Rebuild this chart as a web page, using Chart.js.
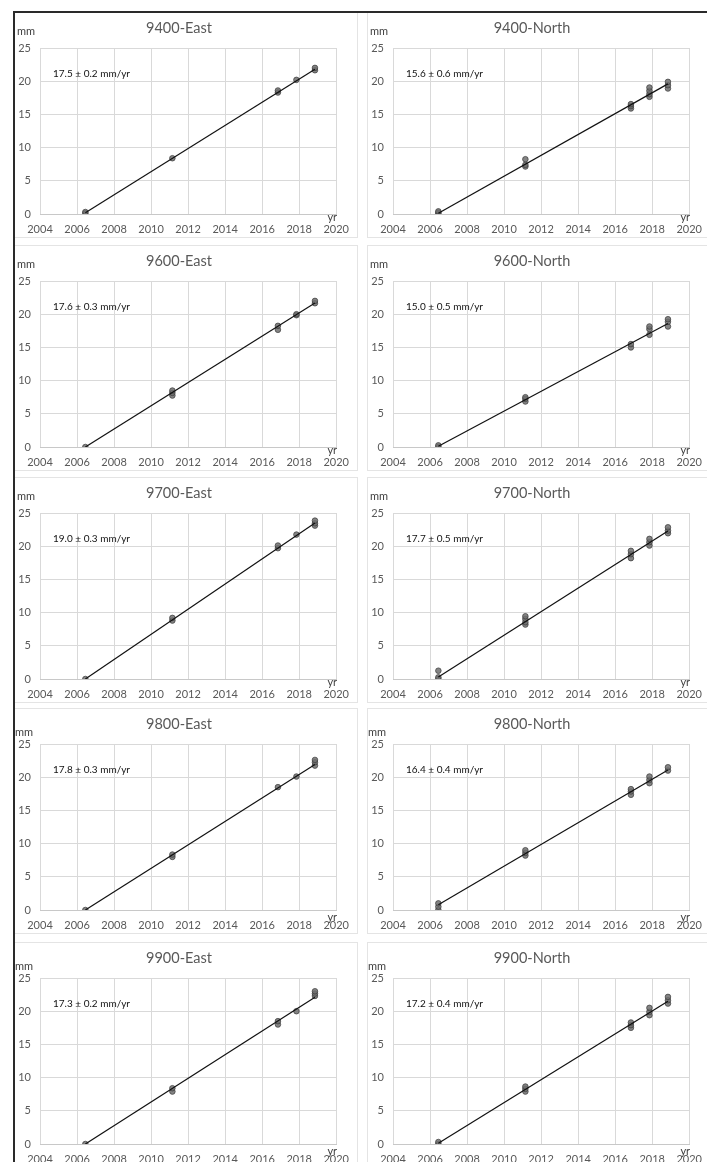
<!DOCTYPE html>
<html>
<head>
<meta charset="utf-8">
<script src="https://cdn.jsdelivr.net/npm/chart.js@4.4.0/dist/chart.umd.min.js"></script>
<style>
  html, body { margin: 0; padding: 0; background: #fff; }
  body { width: 707px; height: 1162px; overflow: hidden; position: relative; }
  .box { position: absolute; width: 344px; height: 226px; box-sizing: border-box; border: 1px solid #e4e4e4; background: #fff; }
  .box canvas { position: absolute; left: -1px; top: -1px; }
  #frameL { position: absolute; z-index: 10; left: 13px; top: 11px; width: 2px; height: 1151px; background: #2a2a2a; }
  #frameT { position: absolute; z-index: 10; left: 13px; top: 11px; width: 694px; height: 2px; background: #2a2a2a; }
</style>
</head>
<body>
<div id="frameL"></div><div id="frameT"></div>
<script>
// ---- data ----
const epochs = [2006.45, 2011.15, 2016.85, 2017.85, 2018.85];
const xTicks = [2004, 2006, 2008, 2010, 2012, 2014, 2016, 2018, 2020];
const yTicks = [0, 5, 10, 15, 20, 25];
const titles = ['9400-East','9400-North','9600-East','9600-North','9700-East','9700-North','9800-East','9800-North','9900-East','9900-North'];
const rates = ['17.5 \u00b1 0.2 mm/yr','15.6 \u00b1 0.6 mm/yr','17.6 \u00b1 0.3 mm/yr','15.0 \u00b1 0.5 mm/yr','19.0 \u00b1 0.3 mm/yr','17.7 \u00b1 0.5 mm/yr','17.8 \u00b1 0.3 mm/yr','16.4 \u00b1 0.4 mm/yr','17.3 \u00b1 0.2 mm/yr','17.2 \u00b1 0.4 mm/yr'];

const pts9400E = [[0.1,0.3],[8.4],[18.3,18.6],[20.2],[21.65,22.0]];
const pts9400N = [[0.0,0.2,0.4],[7.15,7.4,8.25],[15.9,16.25,16.55],[17.65,18.05,18.55,19.05],[18.9,19.4,19.9]];
const pts9600E = [[0.0],[7.75,8.15,8.5],[17.65,18.25],[19.85,20.0],[21.65,22.0]];
const pts9600N = [[0.0,0.25],[6.85,7.25,7.5],[15.0,15.5],[16.9,17.75,18.15],[18.15,18.85,19.25]];
const pts9700E = [[0.0],[8.8,9.2],[19.7,20.1],[21.75],[23.1,23.45,23.85]];
const pts9700N = [[0.0,0.25,1.25],[8.2,8.55,9.05,9.45],[18.2,18.8,19.3],[20.1,20.6,21.1],[21.95,22.35,22.85]];
const pts9800E = [[0.0],[8.0,8.35],[18.5],[20.1],[21.75,22.25,22.6]];
const pts9800N = [[0.0,0.5,1.0],[8.2,8.6,9.0],[17.35,17.85,18.2],[19.1,19.6,20.1],[21.0,21.5]];
const pts9900E = [[0.0],[7.9,8.4],[18.0,18.5],[20.0],[22.3,22.65,23.0]];
const pts9900N = [[0.0,0.3],[7.9,8.3,8.65],[17.5,17.9,18.3],[19.4,19.9,20.5],[21.15,21.65,22.15]];
const panelPoints = [pts9400E, pts9400N, pts9600E, pts9600N, pts9700E, pts9700N, pts9800E, pts9800N, pts9900E, pts9900N];

const fitStart = [0.2, 0.1, 0.0, 0.1, 0.0, 0.3, 0.0, 0.8, 0.0, 0.1];
const fitEnd   = [21.8, 19.6, 21.7, 18.6, 23.5, 22.3, 21.9, 21.1, 22.1, 21.5];

// ---- layout ----
const rowTops = [12, 245, 477, 708, 942];
const colLefts = [14, 367];
const FONT = 'Lato, "Open Sans", sans-serif';

const extraText = {
  id: 'extraText',
  afterDraw(chart, args, opts) {
    const ctx = chart.ctx, ca = chart.chartArea;
    ctx.save();
    ctx.fillStyle = '#111';
    ctx.font = '10px ' + FONT;
    ctx.textAlign = 'left';
    ctx.textBaseline = 'middle';
    ctx.fillText(opts.rate, ca.left + 13, ca.top + 26);
    ctx.fillStyle = '#404040';
    ctx.font = '11px ' + FONT;
    ctx.fillText('mm', opts.mmX, opts.mmY);
    ctx.textAlign = 'center';
    ctx.fillText('yr', ca.right - 4, ca.bottom + opts.yrDy);
    ctx.restore();
  }
};

for (let i = 0; i < 10; i++) {
  const row = Math.floor(i / 2), col = i % 2;
  const box = document.createElement('div');
  box.className = 'box';
  box.style.left = colLefts[col] + 'px';
  box.style.top = rowTops[row] + 'px';
  const cv = document.createElement('canvas');
  cv.width = 344; cv.height = 226;
  cv.style.width = '344px'; cv.style.height = '226px';
  box.appendChild(cv);
  document.body.appendChild(box);

  const scatter = [];
  panelPoints[i].forEach((vals, k) => vals.forEach(v => scatter.push({ x: epochs[k], y: v })));
  const fit = [{ x: epochs[0], y: fitStart[i] }, { x: epochs[epochs.length - 1], y: fitEnd[i] }];
  const lateRow = row >= 3;

  new Chart(cv, {
    type: 'scatter',
    data: {
      datasets: [
        { type: 'line', data: fit, borderColor: '#111', borderWidth: 1.2, pointRadius: 0, fill: false, order: 0 },
        { data: scatter, backgroundColor: 'rgba(110,110,110,0.85)', borderColor: 'rgba(60,60,60,0.9)', borderWidth: 0.8, pointRadius: 2.8, order: 1 }
      ]
    },
    options: {
      responsive: false,
      animation: false,
      devicePixelRatio: 1,
      layout: { padding: { left: 0, right: 14, top: 0, bottom: 0 } },
      plugins: {
        legend: { display: false },
        tooltip: { enabled: false },
        title: {
          display: true, text: titles[i], color: '#595959',
          font: { family: FONT, size: 14.5, weight: 'normal', lineHeight: 1.2 },
          padding: { top: 7.3, bottom: 11.3 }
        },
        extraText: { rate: rates[i], mmX: lateRow ? 1 : 3, mmY: lateRow ? 24 : 19, yrDy: lateRow ? 7 : 3 }
      },
      scales: {
        x: {
          type: 'linear', min: 2004, max: 2020,
          afterBuildTicks: s => { s.ticks = xTicks.map(v => ({ value: v })); },
          afterFit: s => { s.height = 24; },
          grid: { color: '#d9d9d9', lineWidth: 1, drawTicks: false },
          border: { color: '#c8c8c8' },
          ticks: { color: '#595959', padding: 9, maxRotation: 0, autoSkip: false, font: { family: FONT, size: 11 }, callback: v => String(v) }
        },
        y: {
          type: 'linear', min: 0, max: 25,
          afterBuildTicks: s => { s.ticks = yTicks.map(v => ({ value: v })); },
          afterFit: s => { s.width = 26; },
          grid: { color: '#d9d9d9', lineWidth: 1, drawTicks: false },
          border: { display: false },
          ticks: { color: '#595959', padding: 9, font: { family: FONT, size: 11 } }
        }
      }
    },
    plugins: [extraText]
  });
}
</script>
</body>
</html>
